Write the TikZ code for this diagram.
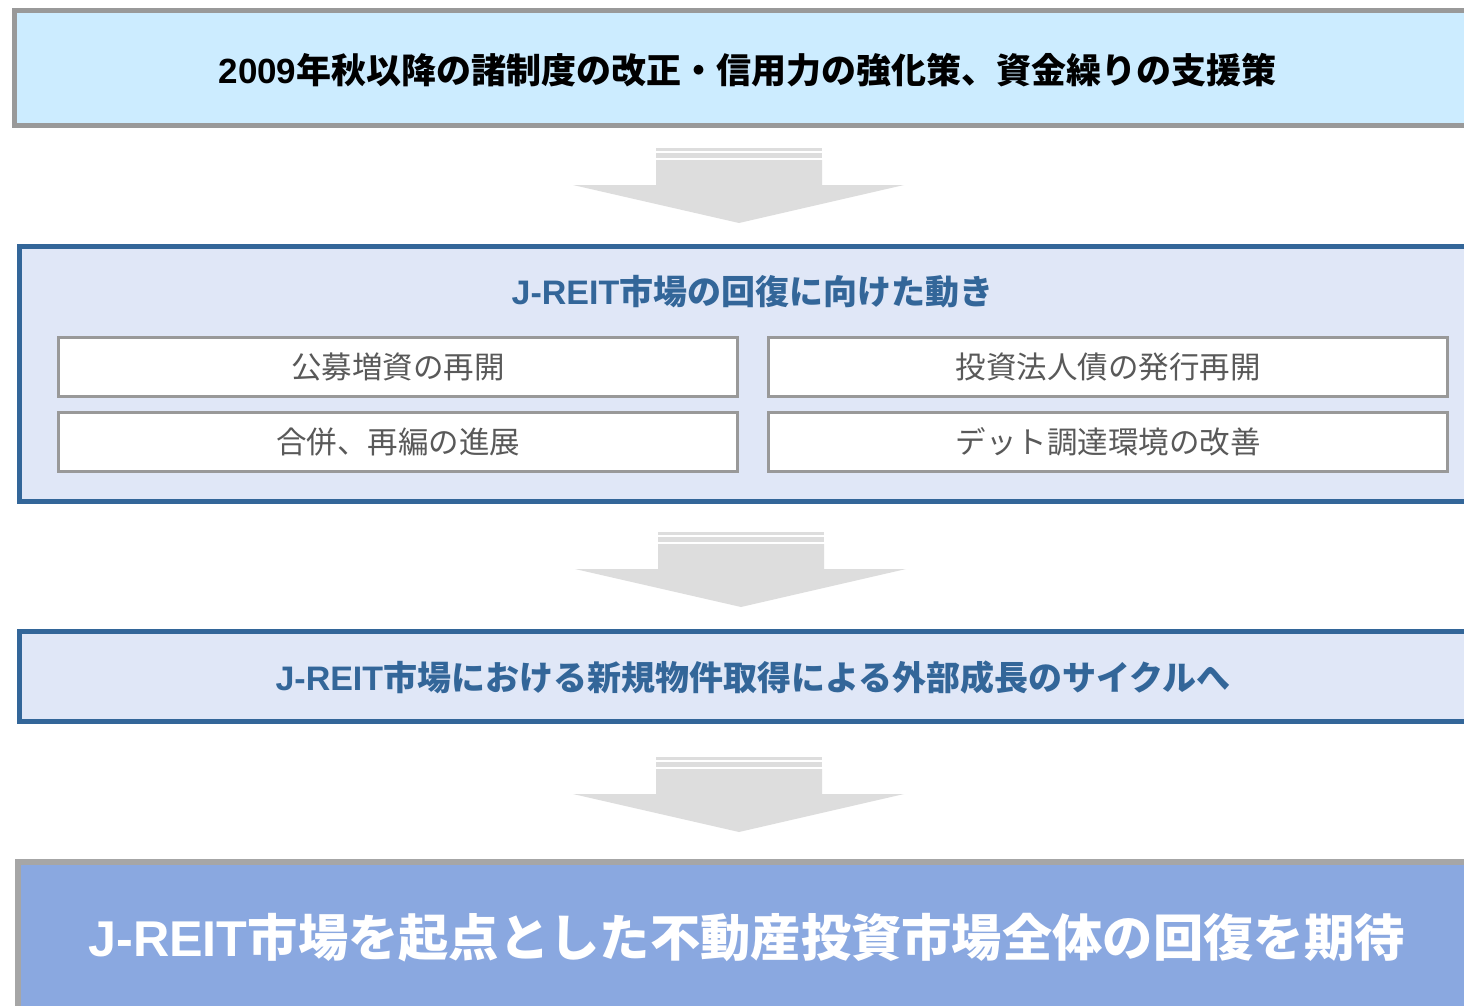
\documentclass[tikz,border=0pt]{standalone}
\usepackage{fontspec}
\setmainfont{Noto Sans CJK JP}
\newfontfamily\latf{Liberation Sans}[BoldFont={Liberation Sans Bold}]
\definecolor{boxgray}{HTML}{999999}
\definecolor{lightblue}{HTML}{CCECFF}
\definecolor{paleblue}{HTML}{E0E7F7}
\definecolor{darkblue}{HTML}{336699}
\definecolor{midblue}{HTML}{8AA8E0}
\definecolor{lastgray}{HTML}{A6A6A6}
\definecolor{arrowgray}{HTML}{DDDDDD}
\definecolor{innertext}{HTML}{595959}
\newcommand\bigdown[1]{%
  \begin{scope}[shift={#1}]
    \fill[arrowgray] (656,148) rectangle (822,151);
    \fill[arrowgray] (656,153) rectangle (822,158);
    \fill[arrowgray] (656,160) -- (822,160) -- (822,185) -- (904,185) -- (739,223) -- (573,185) -- (656,185) -- cycle;
  \end{scope}}
\begin{document}
\begin{tikzpicture}[x=1pt,y=-1pt,
  frame/.style={draw, rectangle, inner sep=0pt, outer sep=0pt, anchor=north west},
  topbox/.style={frame, draw=boxgray, fill=lightblue, line width=5pt},
  bluebox/.style={frame, draw=darkblue, fill=paleblue, line width=5pt},
  inbox/.style={frame, draw=boxgray, fill=white, line width=3pt, minimum width=679pt, minimum height=59pt},
  lastbox/.style={frame, draw=lastgray, fill=midblue, line width=6pt},
  intext/.style={text=innertext, font=\fontsize{30.5}{34}\selectfont},
  bluetext/.style={text=darkblue, font=\bfseries\fontsize{34}{38}\selectfont},
]
\clip (0,0) rectangle (1464,1006);
\fill[white] (0,0) rectangle (1464,1006);

% box 1
\node[topbox, minimum width=1456pt, minimum height=115pt] (b1) at (14.5,10.5) {};
\node[font=\bfseries\fontsize{35}{40}\selectfont, text=black] (t1) at (747.5,70)
  {{\latf\bfseries 2009}年秋以降の諸制度の改正・信用力の強化策、資金繰りの支援策};

\bigdown{(0,0)}

% box 2
\node[bluebox, minimum width=1451pt, minimum height=255pt] (b2) at (19.5,246.5) {};
\node[bluetext] (t2) at (752.5,292) {{\latf\bfseries J-REIT}市場の回復に向けた動き};
\node[inbox] (i1) at (58.5,337.5) {};
\node[intext] (i1t) at (i1.center) {公募増資の再開};
\node[inbox] (i2) at (768.5,337.5) {};
\node[intext] (i2t) at (i2.center) {投資法人債の発行再開};
\node[inbox] (i3) at (58.5,412.5) {};
\node[intext] (i3t) at (i3.center) {合併、再編の進展};
\node[inbox] (i4) at (768.5,412.5) {};
\node[intext] (i4t) at (i4.center) {デット調達環境の改善};

\bigdown{(2,384)}

% box 3
\node[bluebox, minimum width=1451pt, minimum height=90pt] (b3) at (19.5,631.5) {};
\node[bluetext] (t3) at (753,678) {{\latf\bfseries J-REIT}市場における新規物件取得による外部成長のサイクルへ};

\bigdown{(0,609)}

% box 4
\node[lastbox, minimum width=1452pt, minimum height=150pt] (b4) at (18,862) {};
\node[text=white, font=\bfseries\fontsize{50.3}{56}\selectfont] (t4) at (746.5,938)
  {{\latf\bfseries J-REIT}市場を起点とした不動産投資市場全体の回復を期待};
\end{tikzpicture}
\end{document}
